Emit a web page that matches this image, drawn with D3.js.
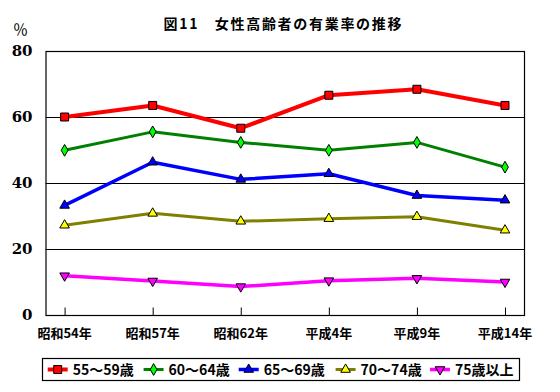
<!DOCTYPE html>
<html><head><meta charset="utf-8">
<script src="https://cdn.jsdelivr.net/npm/d3@7"></script>
<style>body{margin:0;background:#fff}svg{display:block}</style>
</head><body>
<svg id="c" width="560" height="392"></svg>
<script>
const categories = ["昭和54年","昭和57年","昭和62年","平成4年","平成9年","平成14年"];
const s55 = [60.0, 63.5, 56.6, 66.6, 68.4, 63.5];
const s60 = [49.9, 55.5, 52.3, 49.9, 52.3, 44.8];
const s65 = [33.2, 46.3, 41.1, 42.8, 36.2, 34.8];
const s70 = [27.2, 30.8, 28.4, 29.2, 29.8, 25.7];
const s75 = [11.9, 10.3, 8.6, 10.4, 11.1, 10.0];
const seriesNames = ["55～59歳","60～64歳","65～69歳","70～74歳","75歳以上"];
const yTicks = [0, 20, 40, 60, 80];
const title = "図11　女性高齢者の有業率の推移";

const series = [
  {name: seriesNames[0], values: s55, line: "#ff0000", fill: "#ff0000", sym: d3.symbolSquare, size: 64, rot: 0, w: 4},
  {name: seriesNames[1], values: s60, line: "#008000", fill: "#00ff00", sym: d3.symbolDiamond, size: 40, rot: 0, w: 3},
  {name: seriesNames[2], values: s65, line: "#0000ff", fill: "#0000ff", sym: d3.symbolTriangle, size: 40, rot: 0, w: 3.5},
  {name: seriesNames[3], values: s70, line: "#808000", fill: "#ffff00", sym: d3.symbolTriangle, size: 40, rot: 0, w: 3},
  {name: seriesNames[4], values: s75, line: "#ff00ff", fill: "#ff00ff", sym: d3.symbolTriangle, size: 40, rot: 180, w: 3.5}
];

const svg = d3.select("#c");
const L = 45.5, R = 524, T = 51, B = 315;
const x = d3.scalePoint().domain(categories).range([64.6, 505]);
const y = d3.scaleLinear().domain([0, 80]).range([B, T]);
const jp = "'Noto Sans CJK JP','Noto Sans CJK SC',sans-serif";

svg.append("text").attr("x", 282.5).attr("y", 29).attr("text-anchor", "middle")
  .attr("font-family", jp).attr("font-weight", "bold").attr("font-size", 14)
  .attr("textLength", 238).attr("lengthAdjust", "spacing").text(title);

svg.append("text").attr("x", 20.5).attr("y", 35).attr("text-anchor", "middle")
  .attr("font-family", jp).attr("font-size", 15).text("％");

// gridlines
svg.append("g").selectAll("line").data(yTicks.filter(d => d > 0 && d < 80)).join("line")
  .attr("x1", L).attr("x2", R).attr("y1", d => Math.round(y(d)) + 0.5).attr("y2", d => Math.round(y(d)) + 0.5)
  .attr("stroke", "#000").attr("stroke-width", 1);

svg.append("rect").attr("x", L + 0.5).attr("y", T + 0.5).attr("width", R - L).attr("height", B - T)
  .attr("fill", "none").attr("stroke", "#000").attr("stroke-width", 1.2);

// y labels
const yAxis = d3.axisLeft(y).tickValues(yTicks).tickSize(0).tickPadding(13);
const ya = svg.append("g").attr("transform", `translate(${L},0)`).call(yAxis);
ya.select(".domain").remove();
ya.selectAll("text").attr("font-family", "'DejaVu Serif',serif").attr("font-weight", "bold")
  .attr("font-size", 15).attr("fill", "#000");

// x axis ticks inside
const xAxis = d3.axisTop(x).tickSize(8).tickFormat("");
const xa = svg.append("g").attr("transform", `translate(0,${B + 0.5})`).call(xAxis);
xa.select(".domain").remove();
xa.selectAll("line").attr("stroke", "#000");

svg.append("g").selectAll("text").data(categories).join("text")
  .attr("x", d => x(d)).attr("y", 338).attr("text-anchor", "middle")
  .attr("font-family", jp).attr("font-weight", "bold").attr("font-size", 13).text(d => d);

const line = d3.line().x((d, i) => x(categories[i])).y(d => y(d));
series.forEach(s => {
  svg.append("path").datum(s.values).attr("d", line).attr("fill", "none")
    .attr("stroke", s.line).attr("stroke-width", s.w).attr("stroke-linejoin", "round");
});
series.forEach(s => {
  svg.append("g").selectAll("path").data(s.values).join("path")
    .attr("d", d3.symbol().type(s.sym).size(s.size))
    .attr("transform", (d, i) => `translate(${x(categories[i])},${y(d)}) rotate(${s.rot})`)
    .attr("fill", s.fill).attr("stroke", "#000").attr("stroke-width", 1);
});

// legend
svg.append("rect").attr("x", 42.5).attr("y", 358.5).attr("width", 477).attr("height", 22)
  .attr("fill", "#fff").attr("stroke", "#000").attr("stroke-width", 1.2);
const legX = [47.7, 143.6, 238.7, 335.6, 430];
series.forEach((s, i) => {
  const g = svg.append("g").attr("transform", `translate(${legX[i]},369.5)`);
  g.append("line").attr("x1", 0).attr("x2", 20).attr("stroke", s.line).attr("stroke-width", s.w);
  g.append("path").attr("d", d3.symbol().type(s.sym).size(s.size))
    .attr("transform", `translate(10,0) rotate(${s.rot})`)
    .attr("fill", s.fill).attr("stroke", "#000").attr("stroke-width", 1);
  g.append("text").attr("x", 25).attr("y", 5).attr("font-family", jp).attr("font-weight", "bold")
    .attr("font-size", 14).text(s.name);
});
</script>
</body></html>
